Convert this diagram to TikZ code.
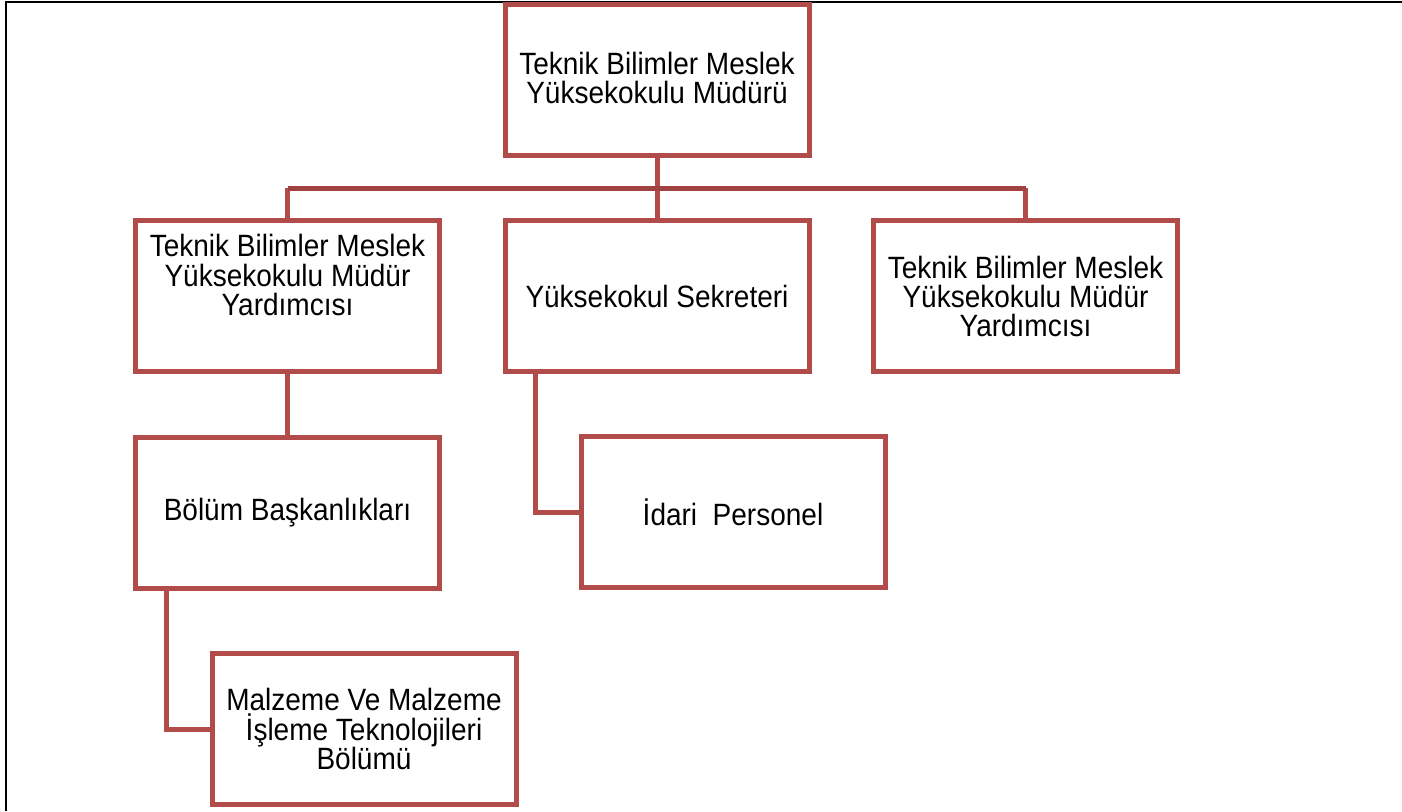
\documentclass[tikz,border=0pt]{standalone}
\usepackage{graphicx}
\usepackage{fontspec}
\setmainfont{Liberation Sans}
\definecolor{boxred}{RGB}{178,76,74}
\definecolor{busred}{RGB}{160,66,64}
\newcommand\tline[1]{\scalebox{1}[1.1]{#1}}
\begin{document}
\begin{tikzpicture}[x=0.75pt,y=-0.75pt,
  orgbox/.style={draw=boxred, line width=3.75pt, rectangle, minimum width=228pt, minimum height=113.25pt, inner sep=0pt, outer sep=0pt, align=center, font=\fontsize{21pt}{21.8pt}\selectfont},
  txt/.style={align=center, inner sep=0pt, font=\fontsize{21pt}{21.8pt}\selectfont},
  conn/.style={draw=boxred, line width=3.75pt},
  busline/.style={draw=busred, line width=3.75pt},
  frame/.style={draw=black, line width=1.5pt}]
\useasboundingbox (0,0) rectangle (1402,811);
\coordinate (fbl) at (6,811);
\coordinate (ftl) at (6,2);
\coordinate (ftr) at (1402,2);
\draw[frame] (fbl) -- (ftl) -- (ftr);

\node[orgbox] (A) at (657,80) {};
\node[txt] (At) at (657,78) {\tline{Teknik Bilimler Meslek}\\\tline{Yüksekokulu Müdürü}};
\node[orgbox] (B1) at (287.5,296.25) {};
\node[txt] (B1t) at (287.5,275) {\tline{Teknik Bilimler Meslek}\\\tline{Yüksekokulu Müdür}\\\tline{Yardımcısı}};
\node[orgbox] (B2) at (657,296.25) {\tline{Yüksekokul Sekreteri}};
\node[orgbox] (B3) at (1025.5,296.25) {\tline{Teknik Bilimler Meslek}\\\tline{Yüksekokulu Müdür}\\\tline{Yardımcısı}};
\node[orgbox] (C1) at (287.5,513) {\tline{Bölüm Başkanlıkları}};
\node[orgbox] (ID) at (733,512.25) {\tline{İdari\ \ Personel}};
\node[orgbox] (D) at (364,729) {\tline{Malzeme Ve Malzeme}\\\tline{İşleme Teknolojileri}\\\tline{Bölümü}};

\coordinate (busY) at (0,188);
\draw[conn] (A.south) -- (B2.north);
\draw[conn] (B1.north) -- (B1.north |- busY);
\draw[conn] (B3.north) -- (B3.north |- busY);
\draw[busline] (B1.north |- busY) -- (B3.north |- busY);
\draw[conn] (B1.south) -- (C1.north);
\draw[conn] ([xshift=22.5pt]B2.south west) |- (ID.west);
\draw[conn] ([xshift=23.25pt]C1.south west) |- (D.west);
\end{tikzpicture}
\end{document}
